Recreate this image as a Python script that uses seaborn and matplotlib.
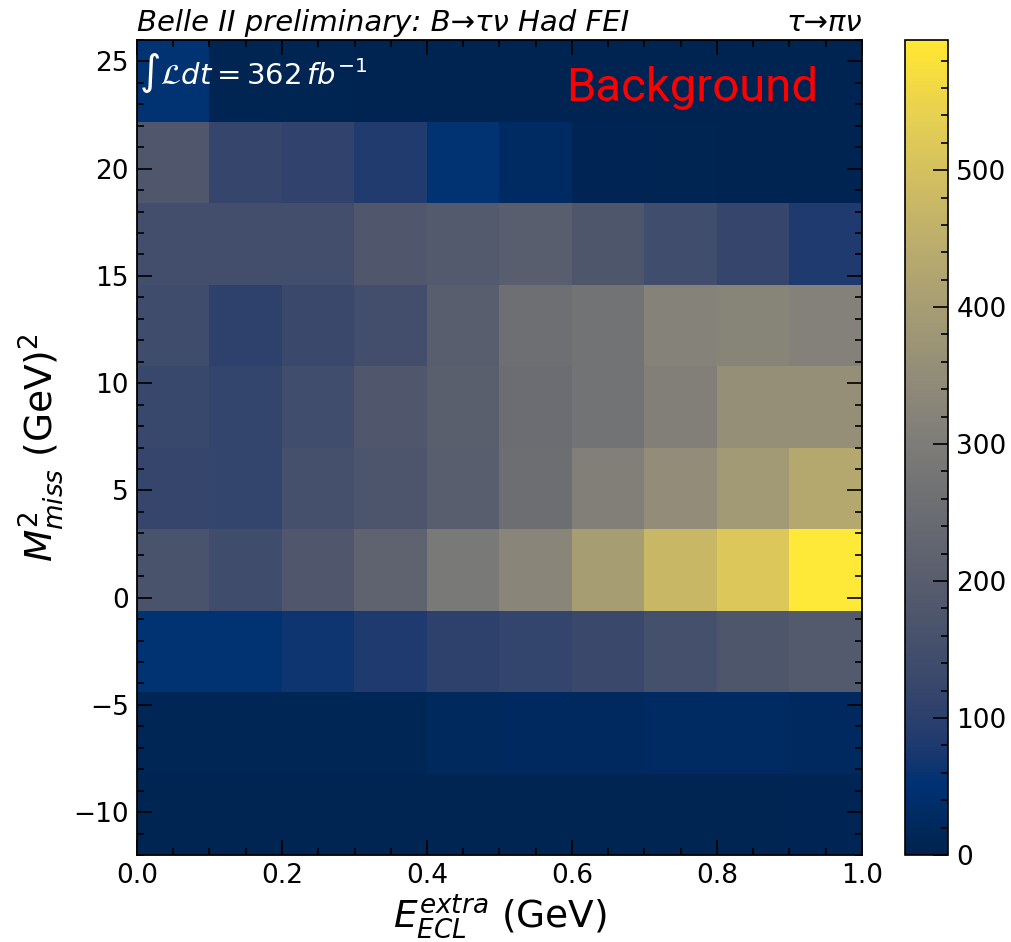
import numpy as np
import pandas as pd
import matplotlib
matplotlib.use("Agg")
import matplotlib.pyplot as plt
from matplotlib.ticker import MultipleLocator
import seaborn as sns

# ---- data ----
x_edges = [0.0, 0.1, 0.2, 0.3, 0.4, 0.5, 0.6, 0.7, 0.8, 0.9, 1.0]
y_edges = [-12.0, -8.2, -4.4, -0.6, 3.2, 7.0, 10.8, 14.6, 18.4, 22.2, 26.0]

# counts per row, bottom (lowest M2miss) to top
row0 = [8, 8, 8, 8, 8, 8, 8, 8, 8, 10]
row1 = [12, 12, 12, 12, 22, 25, 25, 30, 28, 25]
row2 = [55, 55, 65, 80, 105, 115, 130, 155, 175, 190]
row3 = [165, 140, 180, 220, 290, 330, 400, 475, 515, 595]
row4 = [120, 115, 155, 170, 200, 255, 310, 350, 390, 430]
row5 = [125, 115, 145, 180, 205, 250, 270, 310, 360, 360]
row6 = [140, 105, 130, 150, 200, 260, 270, 320, 325, 315]
row7 = [150, 150, 150, 180, 190, 200, 175, 145, 120, 80]
row8 = [180, 120, 110, 85, 55, 30, 10, 8, 5, 5]
row9 = [55, 8, 8, 6, 6, 6, 6, 6, 6, 6]
rows = [row0, row1, row2, row3, row4, row5, row6, row7, row8, row9]

x_ticks = [0.0, 0.2, 0.4, 0.6, 0.8, 1.0]
y_ticks = [-10, -5, 0, 5, 10, 15, 20, 25]
cbar_ticks = [0, 100, 200, 300, 400, 500]

title_left = "Belle II preliminary: B→τν Had FEI"
title_right = "τ→πν"
lumi_text = r"$\int\mathcal{L}dt = 362\,fb^{-1}$"
label_text = "Background"

# ---- build long table ----
xc = [(x_edges[i] + x_edges[i + 1]) / 2 for i in range(len(x_edges) - 1)]
yc = [(y_edges[j] + y_edges[j + 1]) / 2 for j in range(len(y_edges) - 1)]
recs = []
for j, r in enumerate(rows):
    for i, v in enumerate(r):
        recs.append({"x": xc[i], "y": yc[j], "w": v})
df = pd.DataFrame(recs)

plt.rcParams["font.family"] = ["DejaVu Sans"]

fig = plt.figure(figsize=(10.12, 9.42), dpi=100)
ax = fig.add_axes([137 / 1012, 87 / 942, 725 / 1012, 815 / 942])
cax = fig.add_axes([905 / 1012, 87 / 942, 43 / 1012, 815 / 942])

vmax = max(max(r) for r in rows)
sns.histplot(data=df, x="x", y="y", weights="w", bins=[x_edges, y_edges],
             cmap="cividis", vmin=0, vmax=vmax, cbar=True, cbar_ax=cax,
             ax=ax, thresh=None)
ax.set_axisbelow(False)

ax.set_xlim(0, 1)
ax.set_ylim(-12, 26)
ax.set_xticks(x_ticks)
ax.set_yticks(y_ticks)
ax.xaxis.set_minor_locator(MultipleLocator(0.05))
ax.yaxis.set_minor_locator(MultipleLocator(1))
ax.tick_params(which="both", direction="in", top=True, right=True, labelsize=19,
               width=1.2, colors="black")
ax.tick_params(which="major", length=11, pad=6)
ax.tick_params(which="minor", length=5)
for s in ax.spines.values():
    s.set_linewidth(1.3)
    s.set_color("black")

ax.set_xlabel(r"$E_{ECL}^{extra}$ (GeV)", fontsize=27, labelpad=2)
ax.set_ylabel(r"$M_{miss}^{2}$ (GeV)$^{2}$", fontsize=27, labelpad=6)

ax.text(0.0, 1.011, title_left, transform=ax.transAxes, ha="left", va="baseline",
        fontsize=21, style="italic")
ax.text(1.0, 1.011, title_right, transform=ax.transAxes, ha="right", va="baseline",
        fontsize=21, style="italic")
ax.text(0.003, 0.988, lumi_text, transform=ax.transAxes, ha="left", va="top",
        fontsize=21, color="white")
ax.text(0.939, 0.925, label_text, transform=ax.transAxes, ha="right", va="baseline",
        fontsize=34, color="red", family=["Roboto", "DejaVu Sans"])

cax.set_yticks(cbar_ticks)
cax.yaxis.set_minor_locator(MultipleLocator(20))
cax.tick_params(which="both", direction="in", labelsize=19, width=1.2, colors="black")
cax.tick_params(which="major", length=11, pad=6)
cax.tick_params(which="minor", length=5)
cax.set_axisbelow(False)
for s in cax.spines.values():
    s.set_linewidth(1.2)
    s.set_color("black")

fig.savefig("out.png", dpi=100)
